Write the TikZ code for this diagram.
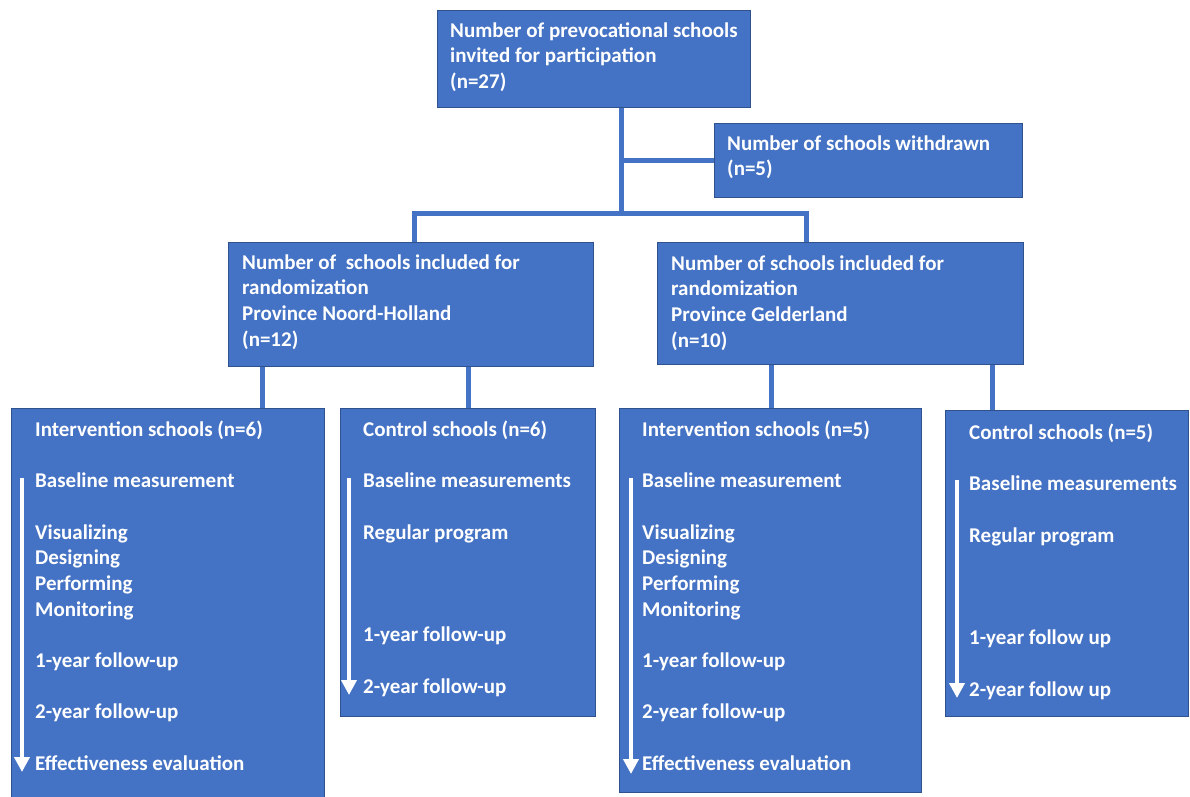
\documentclass[tikz,border=0pt]{standalone}
\usepackage{fontspec}
\setmainfont{Carlito}
\usetikzlibrary{arrows.meta}
\definecolor{boxblue}{HTML}{4472C4}
\definecolor{edgeblue}{HTML}{2F528F}

\begin{document}
\begin{tikzpicture}[
                x=1pt, y=-1pt,
                box/.style={draw=edgeblue, line width=1.2pt, fill=boxblue, inner sep=0pt, anchor=north west},
                txt/.style={anchor=north west, inner sep=0pt, align=left, text=white,
                    font=\fontsize{21}{25.7}\selectfont\bfseries},
                link/.style={draw=boxblue, line width=5pt},
                flow/.style={draw=white, line width=4.5pt, -{Triangle[width=15pt,length=15pt]}}]
            \clip (0,0) rectangle (1190,796);
            % boxes
            \node[box, minimum width=313pt, minimum height=97pt] (top) at (437,10) {};
            \node[box, minimum width=308pt, minimum height=74pt] (wd) at (714,123) {};
            \node[box, minimum width=365pt, minimum height=124pt] (lmid) at (228,242) {};
            \node[box, minimum width=366pt, minimum height=122pt] (rmid) at (657,242) {};
            \node[box, minimum width=313pt, minimum height=400pt] (b1) at (11,408) {};
            \node[box, minimum width=255pt, minimum height=308pt] (b2) at (340,408) {};
            \node[box, minimum width=302pt, minimum height=384pt] (b3) at (619,408) {};
            \node[box, minimum width=243pt, minimum height=306pt] (b4) at (945,410) {};
            % texts
            \node[txt] (topt) at (450,19) {\strut Number of prevocational schools\\invited for participation\\(n=27)};
            \node[txt] (wdt) at (727,132) {\strut Number of schools withdrawn\\(n=5)};
            \node[txt] (lmidt) at (242,251) {\strut Number of~ schools included for\\randomization\\Province Noord-Holland\\(n=12)};
            \node[txt] (rmidt) at (671,252) {\strut Number of schools included for\\randomization\\Province Gelderland\\(n=10)};
            \node[txt] (b1t) at (35,418) {\strut Intervention schools (n=6)\\[25.7pt]
                Baseline measurement\\[25.7pt]
                Visualizing\\Designing\\Performing\\Monitoring\\[25.7pt]
                1-year follow-up\\[25.7pt]
                2-year follow-up\\[25.7pt]
                Effectiveness evaluation};
            \node[txt] (b2t) at (363,418) {\strut Control schools (n=6)\\[25.7pt]
                Baseline measurements\\[25.7pt]
                Regular program\\[77.1pt]
                1-year follow-up\\[25.7pt]
                2-year follow-up};
            \node[txt] (b3t) at (642,418) {\strut Intervention schools (n=5)\\[25.7pt]
                Baseline measurement\\[25.7pt]
                Visualizing\\Designing\\Performing\\Monitoring\\[25.7pt]
                1-year follow-up\\[25.7pt]
                2-year follow-up\\[25.7pt]
                Effectiveness evaluation};
            \node[txt] (b4t) at (969,421) {\strut Control schools (n=5)\\[25.7pt]
                Baseline measurements\\[25.7pt]
                Regular program\\[77.1pt]
                1-year follow up\\[25.7pt]
                2-year follow up};
            % connectors
            \coordinate (jn) at (621,213);
            \coordinate (jl) at (414,213);
            \coordinate (jr) at (806,213);
            \draw[link] (jn |- top.south) -- (jn);
            \draw[link] (jn |- wd.west) -- (wd.west);
            \draw[link] (jl |- lmid.north) -- (jl) -- (jr) -- (jr |- rmid.north);
            \foreach \x/\up/\dn in {262/lmid/b1, 468/lmid/b2, 771/rmid/b3, 992/rmid/b4} {
                \coordinate (k) at (\x,0);
                \draw[link] (k |- \up.south) -- (k |- \dn.north);
            }
            % time arrows
            \foreach \x/\ya/\yb in {22/478/772, 349/478/695, 631/478/774, 957/480/698} {
                \coordinate (s) at (\x,\ya);
                \coordinate (e) at (\x,\yb);
                \draw[flow] (s) -- (e);
            }
        \end{tikzpicture}
\end{document}
